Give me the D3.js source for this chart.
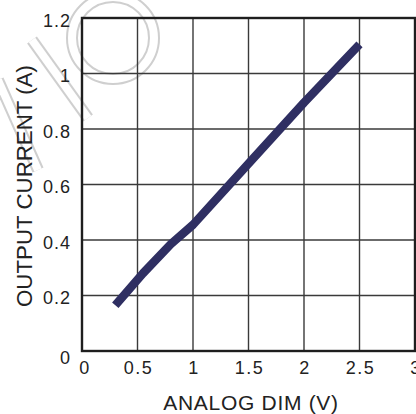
<!DOCTYPE html>
<html><head><meta charset="utf-8">
<script src="https://cdn.jsdelivr.net/npm/d3@7"></script>
<style>html,body{margin:0;padding:0;background:#fff;}svg{display:block;}</style>
</head><body>
<script>
const dimVolts = [0.3, 0.55, 0.8, 1.0, 1.5, 2.0, 2.5];
const outCurrent = [0.165, 0.28, 0.385, 0.455, 0.675, 0.895, 1.105];
const xTicks = [0, 0.5, 1, 1.5, 2, 2.5, 3];
const xTickLabels = ["0", "0.5", "1", "1.5", "2", "2.5", "3"];
const yTicks = [0, 0.2, 0.4, 0.6, 0.8, 1.0, 1.2];
const yTickLabels = ["0", "0.2", "0.4", "0.6", "0.8", "1", "1.2"];
const xTitle = "ANALOG DIM (V)";
const yTitle = "OUTPUT CURRENT (A)";

const W = 416, H = 414;
const svg = d3.select("body").append("svg").attr("width", W).attr("height", H);
const x = d3.scaleLinear().domain([0, 3]).range([82, 415]);
const y = d3.scaleLinear().domain([0, 1.2]).range([351, 18]);

// faint watermark (decorative)
const wm = svg.append("g");
const wmShapes = [
  {type: "circle", cx: 113, cy: 38, r: 41},
  {type: "line", d: "M32,40L88,118"},
  {type: "line", d: "M-2,80L38,170"}
];
wmShapes.forEach(s => {
  [[12, "#cfcfcf"], [8, "#fff"]].forEach(([w, c]) => {
    if (s.type === "circle") wm.append("circle").attr("cx", s.cx).attr("cy", s.cy).attr("r", s.r)
      .attr("fill", "none").attr("stroke", c).attr("stroke-width", w);
    else wm.append("path").attr("d", s.d).attr("fill", "none").attr("stroke", c).attr("stroke-width", w);
  });
});

// grid
const g = svg.append("g");
g.selectAll(".vg").data(xTicks.slice(1, -1)).join("line")
  .attr("x1", d => x(d)).attr("x2", d => x(d)).attr("y1", y(1.2)).attr("y2", y(0))
  .attr("stroke", "#3a3a3a").attr("stroke-width", 1.4);
g.selectAll(".hg").data(yTicks.slice(1, -1)).join("line")
  .attr("x1", x(0)).attr("x2", x(3)).attr("y1", d => y(d)).attr("y2", d => y(d))
  .attr("stroke", "#3a3a3a").attr("stroke-width", 1.4);
g.append("rect").attr("x", x(0)).attr("y", y(1.2)).attr("width", x(3) - x(0)).attr("height", y(0) - y(1.2))
  .attr("fill", "none").attr("stroke", "#1e1e1e").attr("stroke-width", 2.4);

// data line
svg.append("path").datum(dimVolts.map((v, i) => [v, outCurrent[i]]))
  .attr("d", d3.line().x(d => x(d[0])).y(d => y(d[1])))
  .attr("fill", "none").attr("stroke", "#2f2f62").attr("stroke-width", 8.5)
  .attr("stroke-linejoin", "round").attr("stroke-linecap", "butt");

const font = "'Liberation Sans', Arial, Helvetica, sans-serif";
// tick labels
svg.selectAll(".xt").data(xTicks).join("text")
  .attr("x", (d, i) => x(d) + (i === 0 ? 3 : 1)).attr("y", 374)
  .attr("text-anchor", "middle").attr("font-family", font).attr("font-size", 18)
  .attr("letter-spacing", 1.5).attr("fill", "#222")
  .text((d, i) => xTickLabels[i]);
svg.selectAll(".yt").data(yTicks).join("text")
  .attr("x", 71).attr("y", (d, i) => y(d) + (i === 0 ? 12.5 : 8.5))
  .attr("text-anchor", "end").attr("font-family", font).attr("font-size", 18)
  .attr("letter-spacing", 1).attr("fill", "#222")
  .text((d, i) => yTickLabels[i]);

// axis titles
svg.append("text").attr("x", 251).attr("y", 410).attr("text-anchor", "middle")
  .attr("font-family", font).attr("font-size", 21).attr("letter-spacing", 0.7).attr("fill", "#222")
  .text(xTitle);
svg.append("text").attr("transform", "translate(32,186) rotate(-90)").attr("text-anchor", "middle")
  .attr("font-family", font).attr("font-size", 22.3).attr("fill", "#222")
  .text(yTitle);
</script>
</body></html>
